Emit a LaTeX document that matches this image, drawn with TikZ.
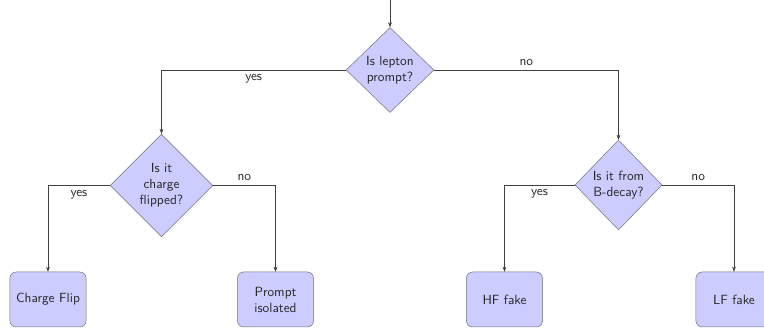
\documentclass[tikz,border=0pt]{standalone}
\usepackage{tikz}
\usetikzlibrary{arrows.meta,positioning,shapes.geometric}

\tikzset{
  decision/.style={diamond, draw=black!55, fill=blue!20, align=center, inner sep=0pt, text=black!85},
  outcome/.style={rectangle, rounded corners=5pt, draw=black!55, fill=blue!20, align=center,
    minimum width=2.13cm, minimum height=1.54cm, text=black!85},
  flow/.style={-{Stealth[length=4pt,width=3pt]}, draw=black!75},
}

\begin{document}
\begin{tikzpicture}[x=0.028cm, y=-0.028cm, every node/.style={font=\sffamily\fontsize{10.6}{12.8}\selectfont}]
				\useasboundingbox (0,0) rectangle (764,332);
				\coordinate (entry) at (390,0);
				% questions
				\node[decision, minimum width=2.46cm, minimum height=2.38cm] (prompt) at (390,70) {Is lepton\\prompt?};
				\node[decision, minimum width=2.88cm, minimum height=2.88cm] (flip) at (161.5,185.5) {Is it\\charge\\flipped?};
				\node[decision, minimum width=2.44cm, minimum height=2.52cm] (bdecay) at (618.5,185) {Is it from\\B-decay?};
				% outcomes
				\node[outcome] (chflip) at (48,299.5) {Charge Flip};
				\node[outcome] (isol) at (275.5,299.5) {Prompt\\isolated};
				\node[outcome] (hf) at (504.5,299.5) {HF fake};
				\node[outcome] (lf) at (734,299.5) {LF fake};
				% connectors
				\draw[flow] (entry) -- (prompt);
				\draw[flow] (prompt.west) -| node[pos=0.25, below, text=black!85] {yes} (flip);
				\draw[flow] (prompt.east) -| node[pos=0.25, above, text=black!85] {no} (bdecay);
				\draw[flow] (flip.west) -| node[pos=0.25, below, text=black!85] {yes} (chflip);
				\draw[flow] (flip.east) -| node[pos=0.25, above, text=black!85] {no} (isol);
				\draw[flow] (bdecay.west) -| node[pos=0.25, below, text=black!85] {yes} (hf);
				\draw[flow] (bdecay.east) -| node[pos=0.25, above, text=black!85] {no} (lf);
			\end{tikzpicture}
\end{document}
